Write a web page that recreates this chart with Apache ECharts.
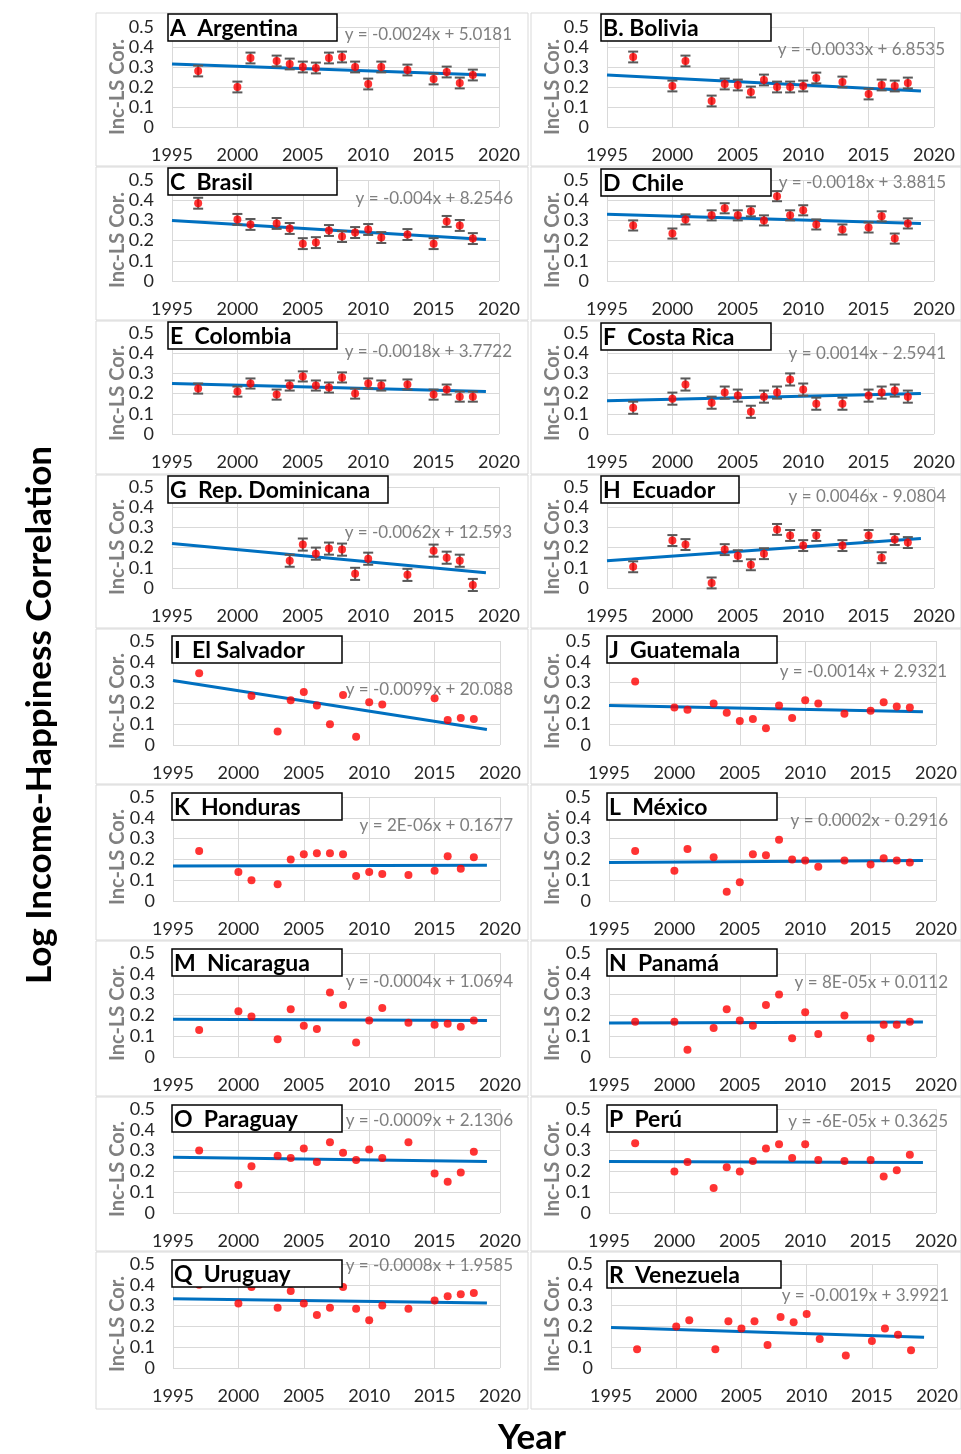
<!DOCTYPE html>
<html>
<head>
<meta charset="utf-8">
<script src="https://cdn.jsdelivr.net/npm/echarts@6/dist/echarts.min.js"></script>
<style>
  html, body { margin: 0; padding: 0; background: #fff; }
  #chart { width: 961px; height: 1454px; }
</style>
</head>
<body>
<div id="chart"></div>
<script>
// survey years (null = no survey for that country)
const years = [1997, 2000, 2001, 2003, 2004, 2005, 2006, 2007, 2008, 2009, 2010, 2011, 2013, 2015, 2016, 2017, 2018]

const argentina = [0.28, 0.20, 0.345, 0.33, 0.315, 0.30, 0.295, 0.345, 0.35, 0.30, 0.215, 0.30, 0.285, 0.24, 0.275, 0.22, 0.26]
const bolivia = [0.35, 0.205, 0.33, 0.13, 0.215, 0.21, 0.175, 0.235, 0.20, 0.20, 0.205, 0.245, 0.225, 0.165, 0.21, 0.205, 0.22]
const brasil = [0.385, 0.305, 0.28, 0.285, 0.26, 0.185, 0.19, 0.25, 0.22, 0.24, 0.255, 0.215, 0.23, 0.185, 0.295, 0.275, 0.21]
const chile = [0.275, 0.235, 0.305, 0.325, 0.36, 0.325, 0.345, 0.30, 0.42, 0.325, 0.35, 0.28, 0.255, 0.265, 0.32, 0.21, 0.285]
const colombia = [0.225, 0.21, 0.25, 0.195, 0.24, 0.285, 0.24, 0.23, 0.28, 0.20, 0.25, 0.24, 0.245, 0.195, 0.22, 0.185, 0.185]
const costaRica = [0.13, 0.175, 0.245, 0.155, 0.205, 0.19, 0.11, 0.185, 0.205, 0.27, 0.22, 0.15, 0.15, 0.19, 0.205, 0.215, 0.185]
const dominicana = [null, null, null, null, 0.135, 0.215, 0.17, 0.195, 0.19, 0.07, 0.145, null, 0.065, 0.185, 0.15, 0.135, 0.015]
const ecuador = [0.105, 0.235, 0.215, 0.025, 0.19, 0.16, 0.115, 0.17, 0.29, 0.26, 0.21, 0.26, 0.21, 0.26, 0.15, 0.24, 0.225]
const elSalvador = [0.345, null, 0.235, 0.065, 0.215, 0.255, 0.19, 0.10, 0.24, 0.04, 0.205, 0.195, null, 0.225, 0.12, 0.13, 0.125]
const guatemala = [0.305, 0.18, 0.17, 0.20, 0.155, 0.115, 0.125, 0.08, 0.19, 0.13, 0.215, 0.20, 0.15, 0.165, 0.205, 0.185, 0.18]
const honduras = [0.24, 0.14, 0.10, 0.08, 0.20, 0.225, 0.23, 0.23, 0.225, 0.12, 0.14, 0.13, 0.125, 0.145, 0.215, 0.155, 0.21]
const mexico = [0.24, 0.145, 0.25, 0.21, 0.045, 0.09, 0.225, 0.22, 0.295, 0.20, 0.195, 0.165, 0.195, 0.175, 0.205, 0.195, 0.185]
const nicaragua = [0.13, 0.22, 0.195, 0.085, 0.23, 0.15, 0.135, 0.31, 0.25, 0.07, 0.175, 0.235, 0.165, 0.155, 0.16, 0.145, 0.175]
const panama = [0.17, 0.17, 0.035, 0.14, 0.23, 0.175, 0.15, 0.25, 0.30, 0.09, 0.215, 0.11, 0.20, 0.09, 0.155, 0.155, 0.17]
const paraguay = [0.30, 0.135, 0.225, 0.275, 0.265, 0.31, 0.245, 0.34, 0.29, 0.255, 0.305, 0.265, 0.34, 0.19, 0.15, 0.195, 0.295]
const peru = [0.335, 0.20, 0.245, 0.12, 0.22, 0.20, 0.25, 0.31, 0.33, 0.265, 0.33, 0.255, 0.25, 0.255, 0.175, 0.205, 0.28]
const uruguay = [0.40, 0.31, 0.39, 0.29, 0.37, 0.31, 0.255, 0.29, 0.39, 0.285, 0.23, 0.30, 0.285, 0.325, 0.345, 0.355, 0.36]
const venezuela = [0.09, 0.20, 0.23, 0.09, 0.225, 0.19, 0.225, 0.11, 0.245, 0.22, 0.26, 0.14, 0.06, 0.13, 0.19, 0.16, 0.085]

const countries = [argentina, bolivia, brasil, chile, colombia, costaRica, dominicana, ecuador, elSalvador,
  guatemala, honduras, mexico, nicaragua, panama, paraguay, peru, uruguay, venezuela]

const panelTitles = ['A  Argentina', 'B. Bolivia', 'C  Brasil', 'D  Chile', 'E  Colombia', 'F  Costa Rica',
  'G  Rep. Dominicana', 'H  Ecuador', 'I  El Salvador', 'J  Guatemala', 'K  Honduras', 'L  México',
  'M  Nicaragua', 'N  Panamá', 'O  Paraguay', 'P  Perú', 'Q  Uruguay', 'R  Venezuela']

const equations = ['y = -0.0024x + 5.0181', 'y = -0.0033x + 6.8535', 'y = -0.004x + 8.2546', 'y = -0.0018x + 3.8815',
  'y = -0.0018x + 3.7722', 'y = 0.0014x - 2.5941', 'y = -0.0062x + 12.593', 'y = 0.0046x - 9.0804',
  'y = -0.0099x + 20.088', 'y = -0.0014x + 2.9321', 'y = 2E-06x + 0.1677', 'y = 0.0002x - 0.2916',
  'y = -0.0004x + 1.0694', 'y = 8E-05x + 0.0112', 'y = -0.0009x + 2.1306', 'y = -6E-05x + 0.3625',
  'y = -0.0008x + 1.9585', 'y = -0.0019x + 3.9921']

// trendline: value at 1995 and at 2019
const trendYears = [1995, 2019]
const trendStart = [0.315, 0.26, 0.30, 0.33, 0.25, 0.165, 0.22, 0.135, 0.31, 0.19, 0.168, 0.185, 0.182, 0.163, 0.268, 0.247, 0.333, 0.195]
const trendEnd = [0.26, 0.18, 0.205, 0.285, 0.21, 0.20, 0.075, 0.245, 0.075, 0.16, 0.172, 0.195, 0.175, 0.168, 0.248, 0.243, 0.312, 0.148]

// half length of the error bars (only panels A-H have them)
const errHalf = [0.027, 0.027, 0.027, 0.025, 0.025, 0.03, 0.03, 0.027, 0, 0, 0, 0, 0, 0, 0, 0, 0, 0]

const xMin = 1995, xMax = 2020, xStep = 5
const yMin = 0, yMax = 0.5, yStep = 0.1

// layout (pixels)
const rowTop = [27, 180, 333, 487, 641, 797, 953, 1109, 1264]
const rowH = [100, 101, 101, 101, 104, 104, 104, 104, 104]
const leftX = [172, 172, 172, 172, 173, 173, 173, 173, 173]
const rightX = [607, 607, 607, 607, 609, 609, 609, 609, 611]
const plotW = 327
const panelY = [13, 167, 321, 475, 629, 785, 941, 1097, 1252, 1410]
const titleBox = [
  [168, 14, 169], [601, 14, 170], [168, 168, 169], [601, 169, 170], [168, 322, 169], [601, 323, 170],
  [168, 476, 220], [601, 476, 138], [172, 636, 170], [607, 636, 170], [172, 793, 170], [607, 793, 170],
  [172, 949, 170], [607, 949, 170], [172, 1105, 170], [607, 1105, 170], [172, 1260, 170], [607, 1261, 174]
]
const eqPos = [
  [512, 35], [945, 50], [513, 199], [946, 183], [512, 352], [946, 354], [512, 533], [946, 497], [513, 690],
  [947, 672], [513, 826], [948, 821], [513, 982], [948, 983], [513, 1121], [948, 1122], [513, 1266], [949, 1296]
]

const FONT = 'Lato, "Open Sans", sans-serif'
const chart = echarts.init(document.getElementById('chart'))

const grids = [], xAxes = [], yAxes = [], series = []
const graphic = []

countries.forEach((vals, i) => {
  const row = Math.floor(i / 2)
  const col = i % 2
  const left = col === 0 ? leftX[row] : rightX[row]
  grids.push({ left: left, top: rowTop[row], width: plotW, height: rowH[row], show: false })
  xAxes.push({
    gridIndex: i, type: 'value', min: xMin, max: xMax, interval: xStep,
    axisLine: { show: false }, axisTick: { show: false },
    axisLabel: { margin: 19, fontSize: 18, color: '#262626', fontFamily: FONT, formatter: v => String(v) },
    splitLine: { show: true, lineStyle: { color: '#d9d9d9', width: 1 } }
  })
  yAxes.push({
    gridIndex: i, type: 'value', min: yMin, max: yMax, interval: yStep,
    axisLine: { show: false }, axisTick: { show: false },
    axisLabel: {
      margin: 18, fontSize: 18, color: '#262626', fontFamily: FONT,
      formatter: v => (v === 0 ? '0' : v.toFixed(1))
    },
    splitLine: { show: true, lineStyle: { color: '#d9d9d9', width: 1 } }
  })

  const pts = []
  years.forEach((yr, k) => {
    if (vals[k] !== null) pts.push([yr, vals[k], errHalf[i]])
  })

  series.push({
    type: 'line', xAxisIndex: i, yAxisIndex: i, z: 2,
    data: [[trendYears[0], trendStart[i]], [trendYears[1], trendEnd[i]]],
    symbol: 'none', silent: true,
    lineStyle: { color: '#0070c0', width: 3 }
  })
  if (errHalf[i] > 0) {
    series.push({
      type: 'custom', xAxisIndex: i, yAxisIndex: i, z: 3,
      data: pts,
      encode: { x: 0, y: 1 },
      renderItem: (params, api) => {
        const x = api.value(0), y = api.value(1), e = api.value(2)
        const t = api.coord([x, y + e])
        const b = api.coord([x, y - e])
        const hw = 5
        const st = { stroke: '#595959', lineWidth: 2 }
        return {
          type: 'group',
          children: [
            { type: 'line', shape: { x1: t[0], y1: t[1], x2: b[0], y2: b[1] }, style: st },
            { type: 'line', shape: { x1: t[0] - hw, y1: t[1], x2: t[0] + hw, y2: t[1] }, style: st },
            { type: 'line', shape: { x1: b[0] - hw, y1: b[1], x2: b[0] + hw, y2: b[1] }, style: st }
          ]
        }
      }
    })
  }
  series.push({
    type: 'scatter', xAxisIndex: i, yAxisIndex: i, z: 4,
    data: pts.map(p => [p[0], p[1]]),
    symbol: 'circle', symbolSize: 8,
    itemStyle: { color: '#ff0000' }
  })

  // panel frame
  const px = col === 0 ? 96 : 531
  const pw = col === 0 ? 432 : 430
  graphic.push({
    type: 'rect', z: 0, silent: true,
    shape: { x: px, y: panelY[row], width: pw, height: panelY[row + 1] - panelY[row] - 1 },
    style: { fill: null, stroke: '#d9d9d9', lineWidth: 1 }
  })
  // y axis name
  graphic.push({
    type: 'text', z: 50, silent: true,
    x: col === 0 ? 118 : 553, y: rowTop[row] + 60, rotation: Math.PI / 2,
    style: {
      text: 'Inc-LS Cor.', fill: '#808080', font: 'bold 20px ' + FONT,
      textAlign: 'center', textVerticalAlign: 'middle'
    }
  })
  // title box
  const tb = titleBox[i]
  graphic.push({
    type: 'rect', z: 60, silent: true,
    shape: { x: tb[0], y: tb[1], width: tb[2], height: 27 },
    style: { fill: '#fff', stroke: '#000', lineWidth: 1.5 }
  })
  graphic.push({
    type: 'text', z: 61, silent: true,
    x: tb[0] + 2, y: tb[1] + 15,
    style: {
      text: panelTitles[i], fill: '#000', font: 'bold 23px ' + FONT,
      textAlign: 'left', textVerticalAlign: 'middle'
    }
  })
  // regression equation
  graphic.push({
    type: 'text', z: 61, silent: true,
    x: eqPos[i][0], y: eqPos[i][1],
    style: {
      text: equations[i], fill: '#7f7f7f', font: '17px ' + FONT,
      textAlign: 'right', textVerticalAlign: 'middle'
    }
  })
})

graphic.push({
  type: 'text', z: 70, silent: true,
  x: 40, y: 715, rotation: Math.PI / 2,
  style: {
    text: 'Log Income-Happiness Correlation', fill: '#000', font: 'bold 35px ' + FONT,
    textAlign: 'center', textVerticalAlign: 'middle'
  }
})
graphic.push({
  type: 'text', z: 70, silent: true,
  x: 532, y: 1438,
  style: {
    text: 'Year', fill: '#000', font: 'bold 35px ' + FONT,
    textAlign: 'center', textVerticalAlign: 'middle'
  }
})

chart.setOption({
  animation: false,
  backgroundColor: '#fff',
  grid: grids,
  xAxis: xAxes,
  yAxis: yAxes,
  series: series,
  graphic: { elements: graphic }
})
</script>
</body>
</html>
